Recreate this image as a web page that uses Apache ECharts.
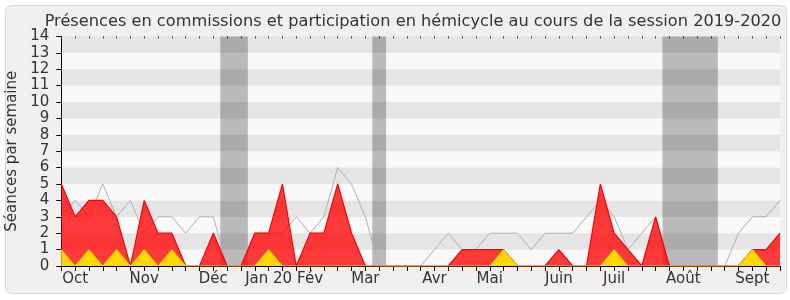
<!DOCTYPE html>
<html>
<head>
<meta charset="utf-8">
<script src="https://cdn.jsdelivr.net/npm/echarts@6/dist/echarts.min.js"></script>
<style>html,body{margin:0;padding:0;background:#fff;}#c{width:790px;height:300px;}</style>
</head>
<body>
<div id="c"></div>
<script>
// Week index 0..52 (session 2019-2020)
var weeks = [];
for (var k = 0; k <= 52; k++) weeks.push(k);
var monthLabels = {1:'Oct',6:'Nov',11:'Déc',15:'Jan 20',18:'Fév',22:'Mar',27:'Avr',31:'Mai',36:'Juin',40:'Juil',45:'Août',50:'Sept'};
var commissions = [5,3,4,4,3,0,4,2,2,0,0,2,0,0,2,2,5,0,2,2,5,2,0,0,0,0,0,0,0,1,1,1,1,0,0,0,1,0,0,5,2,1,0,3,0,0,0,0,0,0,1,1,2];
var interventions = [1,0,1,0,1,0,1,0,1,0,0,0,0,0,0,1,0,0,0,0,0,0,0,0,0,0,0,0,0,0,0,0,1,0,0,0,0,0,0,0,1,0,0,0,0,0,0,0,0,0,1,0,0];
var hemicycle = [3,4,3,5,3,4,2,3,3,2,3,3,0,0,2,2,2,3,2,3,6,5,3,0,0,0,0,1,2,1,1,2,2,2,1,2,2,2,3,4,3,1,2,3,0,0,0,0,0,2,3,3,4];
var vacations = [[11.5,13.5],[22.5,23.5],[43.5,47.5]];
var yTicks = [0,1,2,3,4,5,6,7,8,9,10,11,12,13,14];

function pairs(arr){ return arr.map(function(v,i){ return [weeks[i], v]; }); }

var font = 'DejaVu Sans';
var chart = echarts.init(document.getElementById('c'), null, {renderer:'canvas'});
chart.setOption({
  animation: false,
  backgroundColor: '#fff',
  graphic: [{
    type: 'rect', z: -10, silent: true,
    shape: {x: 5.5, y: 5.5, width: 781, height: 288, r: 6},
    style: {fill: '#f0f0f0', stroke: '#d9d9d9', lineWidth: 1}
  }],
  title: {
    text: 'Présences en commissions et participation en hémicycle au cours de la session 2019-2020',
    left: 408, top: 9, textAlign: 'center',
    textStyle: {fontFamily: font, fontSize: 16.2, fontWeight: 'normal', color: '#333'}
  },
  grid: {left: 61.3, right: 10, top: 36.4, bottom: 34, containLabel: false, outerBoundsMode: 'none'},
  xAxis: [{
    type: 'value', min: 0, max: 52, interval: 1,
    axisLine: {show: true, lineStyle: {color: '#000', width: 1}},
    axisTick: {show: true, length: 5, lineStyle: {color: '#000'}},
    splitLine: {show: false},
    axisLabel: {
      fontFamily: font, fontSize: 15, color: '#333', margin: 6,
      formatter: function(v){ return monthLabels[v] || ''; }
    }
  }, {
    type: 'value', min: 0, max: 52, interval: 1, position: 'top',
    axisLine: {show: false},
    axisTick: {show: true, inside: true, length: 2, lineStyle: {color: '#333'}},
    axisLabel: {show: false}, splitLine: {show: false}
  }],
  yAxis: {
    type: 'value', min: yTicks[0], max: yTicks[yTicks.length-1], interval: 1,
    name: 'Séances par semaine', nameLocation: 'middle', nameGap: 42, nameRotate: 90,
    nameTextStyle: {fontFamily: font, fontSize: 15, color: '#333'},
    axisLine: {show: true, lineStyle: {color: '#000', width: 1}},
    axisTick: {show: true, length: 5, lineStyle: {color: '#000'}},
    axisLabel: {fontFamily: font, fontSize: 15, color: '#333', margin: 12},
    splitLine: {show: false},
    splitArea: {show: true, areaStyle: {color: ['#f9f9f9', '#e5e5e5']}}
  },
  series: [{
    name: 'Hémicycle', type: 'line', data: pairs(hemicycle), z: 2,
    symbol: 'none', lineStyle: {color: '#b0b0b0', width: 1}
  }, {
    name: 'Commissions', type: 'line', data: pairs(commissions), z: 3,
    symbol: 'none', lineStyle: {color: '#ff0000', width: 1.2},
    areaStyle: {color: 'rgba(255,0,0,0.77)', opacity: 1}
  }, {
    name: 'Interventions', type: 'line', data: pairs(interventions), z: 4,
    symbol: 'none', lineStyle: {color: '#ffcc00', width: 1},
    areaStyle: {color: '#ffd700', opacity: 1}
  }, {
    name: 'Vacances', type: 'line', data: [], z: 6,
    markArea: {
      silent: true,
      itemStyle: {color: 'rgba(0,0,0,0.25)'},
      data: vacations.map(function(v){ return [{xAxis: v[0]}, {xAxis: v[1]}]; })
    }
  }]
});
</script>
</body>
</html>
